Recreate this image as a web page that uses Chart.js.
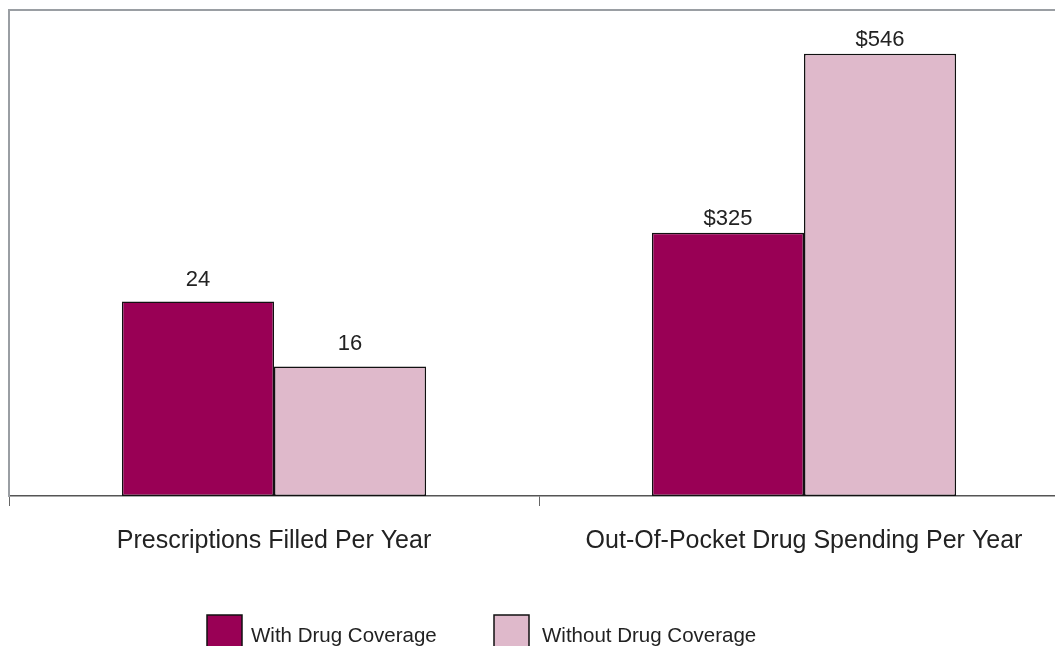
<!DOCTYPE html>
<html>
<head>
<meta charset="utf-8">
<script src="https://cdn.jsdelivr.net/npm/chart.js@4.4.1/dist/chart.umd.min.js"></script>
<style>
  html, body { margin: 0; padding: 0; background: #fff; overflow: hidden; }
  #wrap { width: 1055px; height: 646px; overflow: hidden; }
</style>
</head>
<body>
<div id="wrap"><canvas id="chart" width="1070" height="660"></canvas></div>
<script>
// --- Data ---
const categories = ['Prescriptions Filled Per Year', 'Out-Of-Pocket Drug Spending Per Year'];
const seriesNames = ['With Drug Coverage', 'Without Drug Coverage'];
const withCoverage = [24, 325];
const withoutCoverage = [16, 546];
// prescriptions are drawn in tens on the shared axis, dollars as-is
const unitFactor = [10, 1];
const labelPrefix = ['', '$'];

const colors = ['#990055', '#dfb9cb'];
const textColor = '#222';
const fontFamily = '"Liberation Sans", Arial, Helvetica, sans-serif';

// bar heights on the shared axis
function toAxis(values) {
    return values.map((v, i) => v * unitFactor[i]);
}

// --- Value labels above bars ---
const valueLabels = {
    id: 'valueLabels',
    afterDatasetsDraw(chart) {
        const ctx = chart.ctx;
        const gap = [16, 8];
        const raw = [withCoverage, withoutCoverage];
        ctx.save();
        ctx.font = '22px ' + fontFamily;
        ctx.fillStyle = textColor;
        ctx.textAlign = 'center';
        ctx.textBaseline = 'alphabetic';
        chart.data.datasets.forEach((ds, di) => {
            chart.getDatasetMeta(di).data.forEach((bar, i) => {
                ctx.fillText(labelPrefix[i] + raw[di][i], bar.x, bar.y - gap[i]);
            });
        });
        ctx.restore();
    }
};

// --- Legend drawn at the bottom ---
const bottomLegend = {
    id: 'bottomLegend',
    afterDraw(chart) {
        const ctx = chart.ctx;
        const items = [{ x: 207, tx: 251 }, { x: 494, tx: 542 }];
        ctx.save();
        ctx.font = '20.5px ' + fontFamily;
        ctx.textBaseline = 'alphabetic';
        items.forEach((it, i) => {
            ctx.fillStyle = colors[i];
            ctx.fillRect(it.x, 615, 35, 40);
            ctx.strokeStyle = '#111';
            ctx.lineWidth = 1.5;
            ctx.strokeRect(it.x, 615, 35, 40);
            ctx.fillStyle = textColor;
            ctx.fillText(seriesNames[i], it.tx, 642);
        });
        ctx.restore();
    }
};

new Chart(document.getElementById('chart').getContext('2d'), {
    type: 'bar',
    data: {
        labels: categories,
        datasets: [{
            label: seriesNames[0],
            data: toAxis(withCoverage),
            backgroundColor: colors[0],
            borderColor: '#111',
            borderWidth: 1.5,
            borderSkipped: false,
            barPercentage: 1,
            categoryPercentage: 0.574
        }, {
            label: seriesNames[1],
            data: toAxis(withoutCoverage),
            backgroundColor: colors[1],
            borderColor: '#111',
            borderWidth: 1.5,
            borderSkipped: false,
            barPercentage: 1,
            categoryPercentage: 0.574
        }]
    },
    options: {
        responsive: false,
        animation: false,
        layout: { padding: { left: 9, right: 1, top: 10, bottom: 84 } },
        plugins: {
            legend: { display: false },
            tooltip: { enabled: false }
        },
        scales: {
            x: {
                grid: { display: true, drawOnChartArea: false, tickLength: 10, color: '#666', offset: true },
                border: { display: true, color: '#555', width: 1.5 },
                ticks: {
                    padding: 20,
                    color: textColor,
                    font: { family: fontFamily, size: 25 },
                    maxRotation: 0
                }
            },
            xTop: {
                type: 'category',
                position: 'top',
                grid: { display: false, drawTicks: false },
                border: { display: true, color: '#9a9ea3', width: 2 },
                ticks: { display: false }
            },
            y: {
                min: 0,
                max: 600,
                grid: { display: false, drawTicks: false },
                border: { display: true, color: '#9a9ea3', width: 2 },
                ticks: { display: false }
            }
        }
    },
    plugins: [valueLabels, bottomLegend]
});
</script>
</body>
</html>
